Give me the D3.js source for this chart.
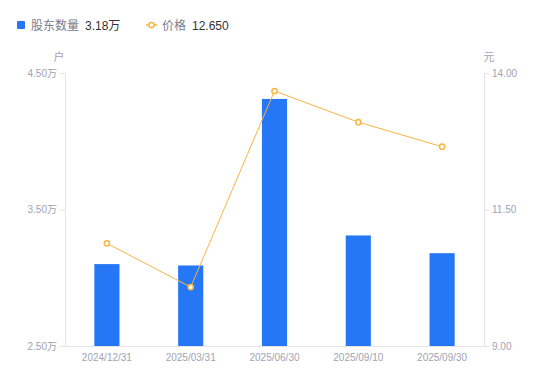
<!DOCTYPE html>
<html>
<head>
<meta charset="utf-8">
<script src="https://cdn.jsdelivr.net/npm/d3@7"></script>
<style>
  body { margin: 0; background: #fff; }
  svg text { font-family: "Liberation Sans", "Noto Sans CJK SC", sans-serif; }
</style>
</head>
<body>
<div id="chart"></div>
<script>
// Data
const dates = ["2024/12/31", "2025/03/31", "2025/06/30", "2025/09/10", "2025/09/30"];
const holders = [3.10, 3.09, 4.31, 3.31, 3.18];   // 股东数量, 万户
const prices = [10.88, 10.08, 13.67, 13.10, 12.65]; // 价格, 元
const leftTicks = [2.5, 3.5, 4.5];
const rightTicks = [9, 11.5, 14];

const width = 550, height = 381;
const margin = {top: 73, right: 66, bottom: 35, left: 65};

const svg = d3.select("#chart").append("svg")
    .attr("width", width)
    .attr("height", height);

const x = d3.scaleBand().domain(dates)
    .range([margin.left, width - margin.right]);
const yL = d3.scaleLinear().domain([2.5, 4.5])
    .range([height - margin.bottom, margin.top]);
const yR = d3.scaleLinear().domain([9, 14])
    .range([height - margin.bottom, margin.top]);

const axisColor = "#e3e3e8";
const labelColor = "#a0a3b1";

// left axis
const gL = svg.append("g")
    .attr("transform", `translate(${margin.left},0)`)
    .call(d3.axisLeft(yL).tickValues(leftTicks).tickSize(5).tickPadding(3)
        .tickFormat(d => d3.format(".2f")(d) + "万"));
// right axis
const gR = svg.append("g")
    .attr("transform", `translate(${width - margin.right},0)`)
    .call(d3.axisRight(yR).tickValues(rightTicks).tickSize(5).tickPadding(3)
        .tickFormat(d3.format(".2f")));
// bottom axis
const gB = svg.append("g")
    .attr("transform", `translate(0,${height - margin.bottom})`)
    .call(d3.axisBottom(x).tickSize(0).tickPadding(8));

[gL, gR, gB].forEach(g => {
    g.select(".domain").attr("stroke", axisColor);
    g.selectAll(".tick line").attr("stroke", axisColor);
    g.selectAll("text").attr("fill", labelColor).attr("font-size", 10)
        .style("font-family", '"Liberation Sans", "Noto Sans CJK SC", sans-serif');
});

// unit labels
svg.append("text").attr("x", 59).attr("y", 61).attr("text-anchor", "middle")
    .attr("fill", labelColor).attr("font-size", 11).text("户");
svg.append("text").attr("x", 489).attr("y", 61).attr("text-anchor", "middle")
    .attr("fill", labelColor).attr("font-size", 11).text("元");

// bars
const barW = x.bandwidth() * 0.3;
svg.selectAll("rect.bar")
    .data(holders)
    .enter().append("rect")
    .attr("class", "bar")
    .attr("x", (d, i) => x(dates[i]) + (x.bandwidth() - barW) / 2)
    .attr("y", d => yL(d))
    .attr("width", barW)
    .attr("height", d => yL(2.5) - yL(d))
    .attr("fill", "#2577f5");

// price line
const lineColor = "#f8b444";
const line = d3.line()
    .x((d, i) => x(dates[i]) + x.bandwidth() / 2)
    .y(d => yR(d));
svg.append("path")
    .datum(prices)
    .attr("d", line)
    .attr("fill", "none")
    .attr("stroke", lineColor)
    .attr("stroke-width", 1);
svg.selectAll("circle.pt")
    .data(prices)
    .enter().append("circle")
    .attr("class", "pt")
    .attr("cx", (d, i) => x(dates[i]) + x.bandwidth() / 2)
    .attr("cy", d => yR(d))
    .attr("r", 2.6)
    .attr("fill", "#fff")
    .attr("stroke", lineColor)
    .attr("stroke-width", 1.5);

// legend
const leg = svg.append("g");
leg.append("rect").attr("x", 17).attr("y", 21).attr("width", 8).attr("height", 8)
    .attr("rx", 1).attr("fill", "#2577f5");
leg.append("text").attr("x", 31).attr("y", 29.5).attr("font-size", 12)
    .attr("fill", "#7a7d8c").text("股东数量");
leg.append("text").attr("x", 85).attr("y", 29.5).attr("font-size", 12)
    .attr("fill", "#333").text(d3.format(".2f")(holders[holders.length - 1]) + "万");
leg.append("line").attr("x1", 146).attr("x2", 157).attr("y1", 25).attr("y2", 25)
    .attr("stroke", lineColor).attr("stroke-width", 1.5);
leg.append("circle").attr("cx", 151.5).attr("cy", 25).attr("r", 2.6)
    .attr("fill", "#fff").attr("stroke", lineColor).attr("stroke-width", 1.5);
leg.append("text").attr("x", 162).attr("y", 29.5).attr("font-size", 12)
    .attr("fill", "#7a7d8c").text("价格");
leg.append("text").attr("x", 192).attr("y", 29.5).attr("font-size", 12)
    .attr("fill", "#333").text(d3.format(".3f")(prices[prices.length - 1]));
</script>
</body>
</html>
